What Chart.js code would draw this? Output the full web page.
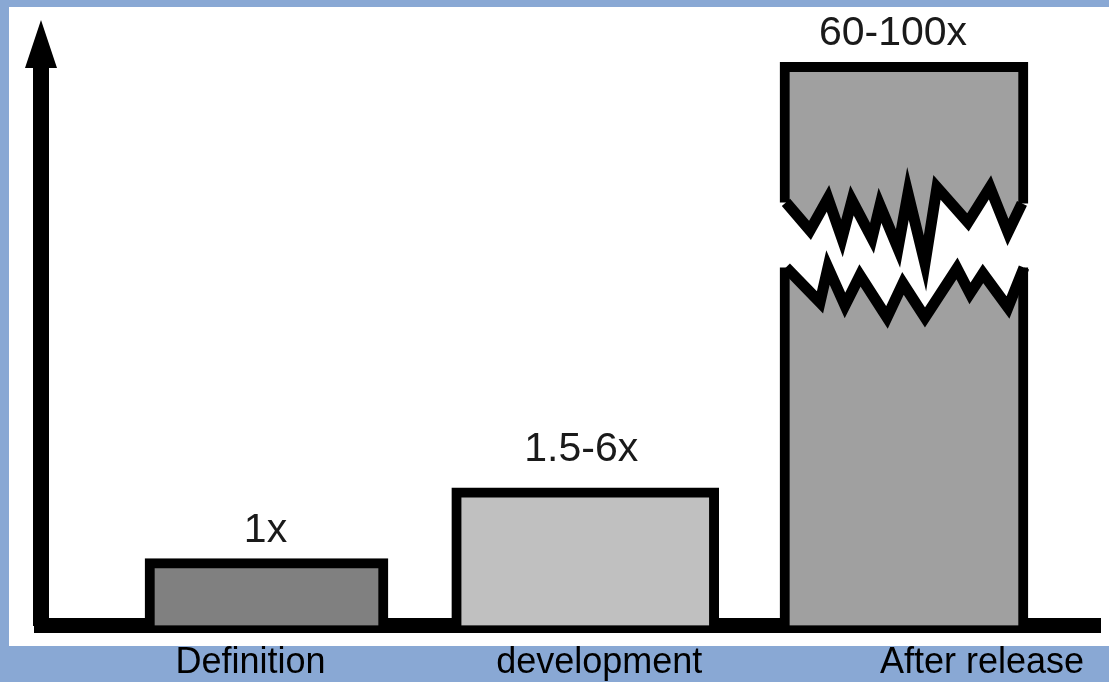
<!DOCTYPE html>
<html>
<head>
<meta charset="utf-8">
<script src="https://cdn.jsdelivr.net/npm/chart.js@4/dist/chart.umd.min.js"></script>
<style>
  html, body { margin: 0; padding: 0; background: #89a8d4; }
  canvas { display: block; }
</style>
</head>
<body>
<canvas id="costChart" width="1109" height="682"></canvas>
<script>
// phases and relative cost (bar heights, 3rd bar is broken)
var phases = ['Definition', 'development', 'After release'];
var barHeights = [1.2, 2.47, 10.1];
var costLabels = ['1x', '1.5-6x', '60-100x'];

var fills = ['#808080', '#c0c0c0', '#a0a0a0'];
var barWidths = [243, 267, 248];
var phaseShift = [-16, 14, 78];           // x label offsets from bar centre
var costNudge = [[-1, 17], [-4, 27], [-11, 17]];

// zigzag of the axis break, offsets from the 3rd bar's centre / top
var breakTop = [[-118,140],[-94,168],[-76,136],[-62,176],[-52,138],[-32,176],[-24,143],[-6,186],[4,131],[21,201],[33,125],[64,160],[86,125],[104,170],[118,141]];
var breakBottom = [[-118,205],[-84,240],[-76,205],[-59,243],[-44,213],[-17,255],[-1,221],[21,255],[53,206],[66,231],[79,211],[104,245],[120,205]];

var framePlugin = {
    id: 'frame',
    beforeDraw: function(chart) {
        var ctx = chart.ctx;
        ctx.save();
        ctx.fillStyle = '#89a8d4';
        ctx.fillRect(0, 0, chart.width, chart.height);
        ctx.fillStyle = '#ffffff';
        ctx.fillRect(9, 7, chart.width - 9, 639);
        ctx.restore();
    },
    afterDatasetsDraw: function(chart) {
        var ctx = chart.ctx;
        var bar = chart.getDatasetMeta(2).data[0];
        var pts = function(list) {
            return list.map(function(p) { return [bar.x + p[0], bar.y + p[1]]; });
        };
        var top = pts(breakTop), bot = pts(breakBottom);
        ctx.save();
        // white gap
        ctx.beginPath();
        ctx.moveTo(top[0][0] - 8, top[0][1]);
        top.forEach(function(p) { ctx.lineTo(p[0], p[1]); });
        ctx.lineTo(top[top.length - 1][0] + 8, top[top.length - 1][1]);
        ctx.lineTo(bot[bot.length - 1][0] + 8, bot[bot.length - 1][1]);
        bot.slice().reverse().forEach(function(p) { ctx.lineTo(p[0], p[1]); });
        ctx.lineTo(bot[0][0] - 8, bot[0][1]);
        ctx.closePath();
        ctx.fillStyle = '#ffffff';
        ctx.fill();
        // jagged edges
        ctx.strokeStyle = '#000';
        ctx.lineWidth = 11;
        ctx.lineJoin = 'miter';
        [top, bot].forEach(function(line) {
            ctx.beginPath();
            line.forEach(function(p, i) { if (i === 0) ctx.moveTo(p[0], p[1]); else ctx.lineTo(p[0], p[1]); });
            ctx.stroke();
        });
        ctx.restore();
    },
    afterDraw: function(chart) {
        var ctx = chart.ctx;
        var area = chart.chartArea;
        var xScale = chart.scales.x;
        ctx.save();
        // arrow head on y axis
        ctx.fillStyle = '#000';
        ctx.beginPath();
        ctx.moveTo(area.left, area.top - 48);
        ctx.lineTo(area.left + 16, area.top);
        ctx.lineTo(area.left - 16, area.top);
        ctx.closePath();
        ctx.fill();

        // cost labels above bars
        ctx.font = '41px "Liberation Sans", Arial, sans-serif';
        ctx.fillStyle = '#1a1a1a';
        ctx.textAlign = 'center';
        ctx.textBaseline = 'alphabetic';
        costLabels.forEach(function(txt, i) {
            var bar = chart.getDatasetMeta(i).data[0];
            ctx.fillText(txt, bar.x + costNudge[i][0], bar.y - costNudge[i][1]);
        });

        // phase names in the blue band
        ctx.font = '36px "Liberation Sans", Arial, sans-serif';
        ctx.fillStyle = '#000';
        phases.forEach(function(name, i) {
            ctx.fillText(name, xScale.getPixelForValue(i) + phaseShift[i], chart.height - 9);
        });
        ctx.restore();
    }
};

function renderCostChart() {
    var ctx = document.getElementById('costChart').getContext('2d');

    var costChart = new Chart(ctx, {
        type: 'bar',
        data: {
            datasets: phases.map(function(name, i) {
                return {
                    label: name,
                    data: [{ x: i, y: barHeights[i] }],
                    backgroundColor: fills[i],
                    borderColor: '#000',
                    borderWidth: 10,
                    borderSkipped: 'bottom',
                    barThickness: barWidths[i],
                    grouped: false,
                    clip: false
                };
            })
        },
        options: {
            responsive: false,
            animation: false,
            layout: {
                padding: { left: 41, top: 68, right: 9, bottom: 56.5 }
            },
            scales: {
                x: {
                    type: 'linear',
                    offset: false,
                    min: -0.7075,
                    max: 2.615,
                    z: 1,
                    ticks: { display: false },
                    grid: { display: false, drawTicks: false, tickLength: 0 },
                    border: { display: true, color: '#000', width: 15 }
                },
                y: {
                    min: 0,
                    max: 10,
                    z: 1,
                    ticks: { display: false },
                    grid: { display: false, drawTicks: false, tickLength: 0 },
                    border: { display: true, color: '#000', width: 16 }
                }
            },
            plugins: {
                legend: { display: false },
                tooltip: { enabled: false }
            }
        },
        plugins: [framePlugin]
    });
}

document.addEventListener('DOMContentLoaded', renderCostChart);
</script>
</body>
</html>
